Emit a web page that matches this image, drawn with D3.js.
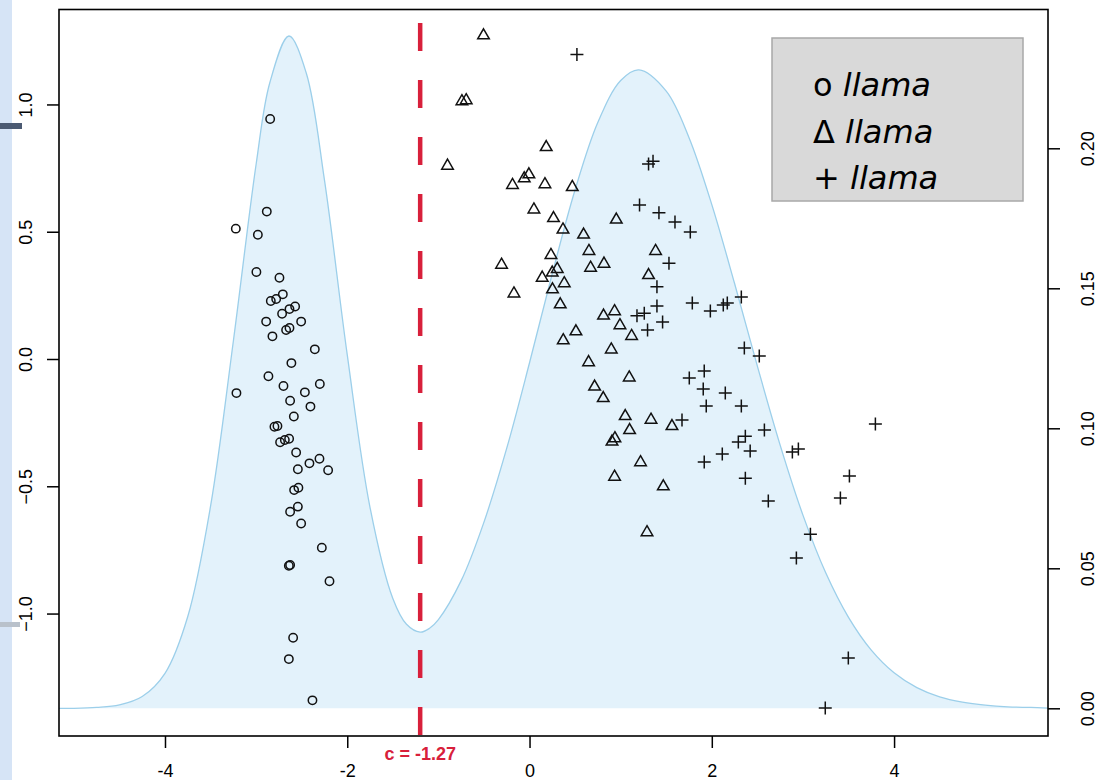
<!DOCTYPE html>
<html>
<head>
<meta charset="utf-8">
<script src="https://cdn.jsdelivr.net/npm/d3@7"></script>
<style>
  body { margin: 0; background: #fff; }
  svg { display: block; }
  .tick text { font-family: "Liberation Sans", Arial, sans-serif; font-size: 18px; fill: #000; }
</style>
</head>
<body>
<script>
// group 1 (circles)
var circleX = [-2.846, -2.883, -3.223, -2.981, -2.997, -2.744, -2.707, -2.780, -2.839, -2.572,
  -2.634, -2.715, -2.890, -2.506, -2.634, -2.671, -2.821, -2.356, -2.613, -2.865,
  -2.301, -2.700, -3.216, -2.465, -2.627, -2.404, -2.586, -2.799, -2.766, -2.737,
  -2.685, -2.638, -2.561, -2.415, -2.305, -2.542, -2.210, -2.583, -2.536, -2.542,
  -2.627, -2.506, -2.279, -2.641, -2.627, -2.195, -2.594, -2.641, -2.382];
var circleY = [0.943, 0.579, 0.512, 0.488, 0.342, 0.319, 0.254, 0.236, 0.228, 0.206,
  0.196, 0.178, 0.147, 0.147, 0.122, 0.114, 0.089, 0.038, -0.016, -0.068,
  -0.098, -0.106, -0.134, -0.131, -0.164, -0.187, -0.226, -0.266, -0.263, -0.327,
  -0.318, -0.313, -0.367, -0.410, -0.392, -0.433, -0.437, -0.515, -0.506, -0.580,
  -0.600, -0.646, -0.741, -0.812, -0.809, -0.873, -1.095, -1.179, -1.341];

// group 2 (triangles)
var triX = [-0.505, -0.742, -0.695, 0.183, -0.900, -0.007, -0.058, -0.187, 0.169, 0.469,
  0.048, 0.263, 0.367, 0.952, 0.593, 0.652, 0.235, -0.307, 0.670, 0.817,
  0.304, 0.249, 0.139, 0.381, 0.252, -0.171, 1.383, 1.306, 0.337, 0.812,
  0.933, 0.992, 0.509, 0.370, 1.120, 0.897, 0.648, 1.094, 0.714, 0.809,
  1.050, 1.333, 1.563, 1.098, 0.937, 0.905, 1.218, 0.933, 1.468, 1.289];
var triY = [1.273, 1.014, 1.018, 0.834, 0.761, 0.727, 0.711, 0.685, 0.688, 0.677,
  0.589, 0.555, 0.510, 0.549, 0.490, 0.426, 0.410, 0.372, 0.360, 0.376,
  0.355, 0.341, 0.321, 0.299, 0.275, 0.259, 0.426, 0.331, 0.216, 0.172,
  0.189, 0.134, 0.110, 0.075, 0.092, 0.039, -0.011, -0.071, -0.107, -0.152,
  -0.223, -0.237, -0.262, -0.278, -0.310, -0.323, -0.404, -0.461, -0.499, -0.679];

// group 3 (plus signs)
var plusX = [0.520, 1.306, 1.355, 1.207, 1.420, 1.596, 1.764, 1.530, 1.398, 1.398,
  1.179, 1.259, 1.460, 1.295, 1.673, 1.786, 1.984, 2.126, 2.170, 2.324,
  2.357, 2.521, 1.753, 1.917, 1.906, 1.939, 2.148, 2.324, 1.917, 2.115,
  2.291, 2.368, 2.577, 2.368, 2.620, 2.884, 2.950, 3.795, 3.510, 3.411,
  3.082, 2.928, 3.498, 3.245, 2.421];
var plusY = [1.196, 0.766, 0.777, 0.605, 0.575, 0.538, 0.499, 0.376, 0.284, 0.208,
  0.170, 0.180, 0.145, 0.114, -0.240, 0.220, 0.189, 0.212, 0.220, 0.244,
  0.043, 0.012, -0.075, -0.047, -0.118, -0.185, -0.134, -0.185, -0.405, -0.373,
  -0.326, -0.303, -0.279, -0.468, -0.558, -0.365, -0.354, -0.255, -0.460, -0.546,
  -0.688, -0.782, -1.175, -1.371, -0.361];

// density curve
var densX = [-5.163, -5.0, -4.75, -4.5, -4.25, -4.0, -3.75, -3.5, -3.25, -3.0,
  -2.85, -2.64, -2.45, -2.25, -2.0, -1.75, -1.5, -1.35, -1.2, -1.1,
  -1.0, -0.75, -0.5, -0.25, 0, 0.25, 0.5, 0.75, 1.0, 1.2,
  1.5, 1.75, 2.0, 2.25, 2.5, 2.75, 3.0, 3.25, 3.5, 3.75,
  4.0, 4.25, 4.5, 4.75, 5.0, 5.25, 5.5, 5.689];
var densY = [0.0000, 0.0000, 0.0003, 0.0012, 0.0042, 0.0125, 0.0328, 0.0722, 0.1311, 0.1943,
  0.2234, 0.2401, 0.2269, 0.1886, 0.1262, 0.0717, 0.0392, 0.0300, 0.0272, 0.0285,
  0.0317, 0.0456, 0.0665, 0.0929, 0.1234, 0.1553, 0.1852, 0.2093, 0.2242, 0.2280,
  0.2204, 0.2038, 0.1799, 0.1517, 0.1222, 0.0940, 0.0690, 0.0484, 0.0325, 0.0208,
  0.0127, 0.0074, 0.0041, 0.0022, 0.0011, 0.0005, 0.0003, 0.0001];

var xTicks = [-4, -2, 0, 2, 4];
var yTicks = [-1.0, -0.5, 0.0, 0.5, 1.0];
var densTicks = [0.00, 0.05, 0.10, 0.15, 0.20];
var cutValue = -1.2;
var cutLabel = "c = -1.27";
var legendSymbols = ["o", "\u0394", "+"];
var legendLabels = ["llama", "llama", "llama"];

function drawChart() {
  var width = 1104;
  var height = 780;
  var left = 59, right = 1048, top = 9.5, bottom = 736;

  var svg = d3.select("body")
    .append("svg")
    .attr("width", width)
    .attr("height", height);

  // slide background peeking in on the left
  svg.append("rect").attr("x", 0).attr("y", 0).attr("width", 12).attr("height", height).attr("fill", "#d6e4f6");
  svg.append("rect").attr("x", 0).attr("y", 123).attr("width", 22).attr("height", 6).attr("fill", "#4b5a72");
  svg.append("rect").attr("x", 0).attr("y", 622).attr("width", 20).attr("height", 5).attr("fill", "#b9c1cb");

  var x = d3.scaleLinear().domain([-5.163, 5.689]).range([left, right]);
  var y = d3.scaleLinear().domain([-1.481, 1.373]).range([bottom, top]);
  var yd = d3.scaleLinear().domain([-0.00989, 0.24957]).range([bottom, top]);

  var dens = densX.map(function (d, i) { return { x: d, y: densY[i] }; });

  var area = d3.area()
    .x(function (d) { return x(d.x); })
    .y0(yd(0))
    .y1(function (d) { return yd(d.y); })
    .curve(d3.curveCatmullRom);
  var line = d3.line()
    .x(function (d) { return x(d.x); })
    .y(function (d) { return yd(d.y); })
    .curve(d3.curveCatmullRom);

  svg.append("path").datum(dens).attr("d", area).attr("fill", "#e3f2fb");
  svg.append("path").datum(dens).attr("d", line)
    .attr("fill", "none").attr("stroke", "#9ccfea").attr("stroke-width", 1.3);

  // cut-off line, dashes start at the bottom
  svg.append("line")
    .attr("x1", x(cutValue)).attr("x2", x(cutValue))
    .attr("y1", bottom - 1).attr("y2", top + 10)
    .attr("stroke", "#d8203b")
    .attr("stroke-width", 4.5)
    .attr("stroke-dasharray", "28,29");

  var pts = svg.append("g")
    .attr("fill", "none")
    .attr("stroke", "#111")
    .attr("stroke-width", 1.5);

  pts.selectAll("circle")
    .data(circleX.map(function (d, i) { return [d, circleY[i]]; }))
    .enter()
    .append("circle")
      .attr("cx", function (d) { return x(d[0]); })
      .attr("cy", function (d) { return y(d[1]); })
      .attr("r", 4.2);

  var tri = d3.symbol().type(d3.symbolTriangle).size(58);
  pts.selectAll(".tri")
    .data(triX.map(function (d, i) { return [d, triY[i]]; }))
    .enter()
    .append("path")
      .attr("class", "tri")
      .attr("d", tri)
      .attr("transform", function (d) { return "translate(" + x(d[0]) + "," + (y(d[1]) + 0.5) + ")"; });

  pts.selectAll(".plus")
    .data(plusX.map(function (d, i) { return [d, plusY[i]]; }))
    .enter()
    .append("path")
      .attr("class", "plus")
      .attr("d", "M-6.5,0H6.5M0,-6.5V6.5")
      .attr("transform", function (d) { return "translate(" + x(d[0]) + "," + y(d[1]) + ")"; });

  // axes
  svg.append("g")
    .attr("transform", "translate(0," + bottom + ")")
    .call(d3.axisBottom(x).tickValues(xTicks).tickSize(12).tickPadding(16)
      .tickFormat(function (d) { return d; }))
    .call(function (g) { g.select(".domain").remove(); })
    .selectAll("line").attr("stroke-width", 1.5);

  var yAxis = svg.append("g")
    .attr("transform", "translate(" + left + ",0)")
    .call(d3.axisLeft(y).tickValues(yTicks).tickSize(12).tickFormat(d3.format(".1f")));
  yAxis.select(".domain").remove();
  yAxis.selectAll("line").attr("stroke-width", 1.5);
  yAxis.selectAll("text")
    .attr("transform", "rotate(-90)")
    .attr("x", 0).attr("y", -27).attr("dy", 0)
    .attr("text-anchor", "middle");

  var dAxis = svg.append("g")
    .attr("transform", "translate(" + right + ",0)")
    .call(d3.axisRight(yd).tickValues(densTicks).tickSize(12).tickFormat(d3.format(".2f")));
  dAxis.select(".domain").remove();
  dAxis.selectAll("line").attr("stroke-width", 1.5);
  dAxis.selectAll("text")
    .attr("transform", "rotate(-90)")
    .attr("x", 0).attr("y", 46).attr("dy", 0)
    .attr("text-anchor", "middle");

  svg.append("rect")
    .attr("x", left).attr("y", top)
    .attr("width", right - left).attr("height", bottom - top)
    .attr("fill", "none").attr("stroke", "#000").attr("stroke-width", 1.6);

  svg.append("text")
    .attr("x", x(cutValue)).attr("y", 760)
    .attr("text-anchor", "middle")
    .attr("font-family", "Liberation Sans, Arial, sans-serif")
    .attr("font-weight", "bold")
    .attr("font-size", 18)
    .attr("fill", "#d8203b")
    .text(cutLabel);

  // legend
  var lg = svg.append("g");
  lg.append("rect")
    .attr("x", 772).attr("y", 38).attr("width", 251).attr("height", 163)
    .attr("fill", "#d9d9d9").attr("stroke", "#a8a8a8").attr("stroke-width", 1.5);

  var lt = lg.selectAll("text")
    .data(legendLabels)
    .enter()
    .append("text")
      .attr("x", 813)
      .attr("y", function (d, i) { return 96 + i * 46.5; })
      .attr("font-family", "DejaVu Sans, Verdana, sans-serif")
      .attr("font-size", 32)
      .attr("fill", "#000");
  lt.append("tspan").text(function (d, i) { return legendSymbols[i] + " "; });
  lt.append("tspan").attr("font-style", "italic").text(function (d) { return d; });
}

drawChart();
</script>
</body>
</html>
